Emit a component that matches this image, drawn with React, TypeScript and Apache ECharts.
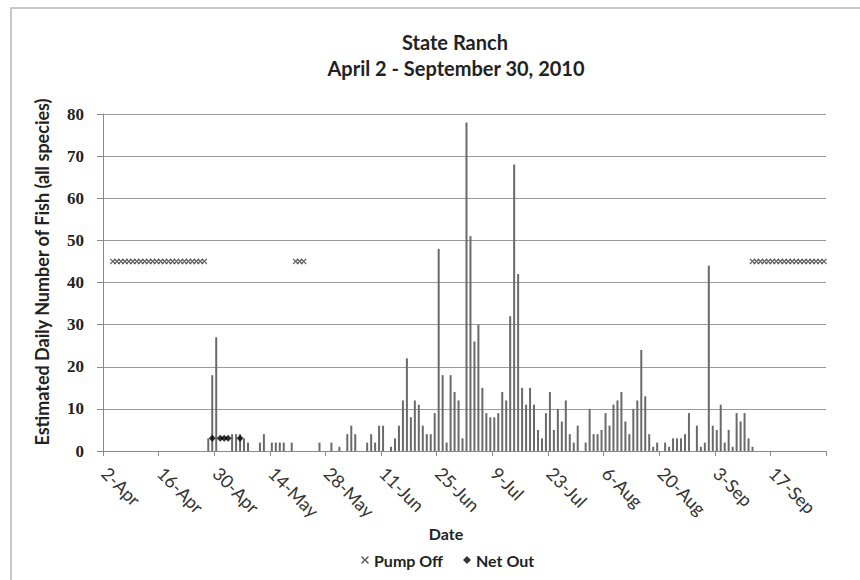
import React, { useEffect, useRef } from 'react';
import * as echarts from 'echarts';

// ---- categories: every day from 2-Apr to 30-Sep 2010 ----
const MONTHS = ['Jan', 'Feb', 'Mar', 'Apr', 'May', 'Jun', 'Jul', 'Aug', 'Sep', 'Oct', 'Nov', 'Dec'];
const DAY_COUNT = 182;
const categories: string[] = [];
for (let i = 0; i < DAY_COUNT; i++) {
  const d = new Date(2010, 3, 2 + i);
  categories.push(`${d.getDate()}-${MONTHS[d.getMonth()]}`);
}

// ---- estimated daily number of fish ----
const fishDates = [
  '28-Apr', '29-Apr', '30-Apr', '4-May', '5-May', '6-May', '7-May', '8-May', '11-May', '12-May',
  '14-May', '15-May', '16-May', '17-May', '19-May', '26-May', '29-May', '31-May', '2-Jun', '3-Jun',
  '4-Jun', '7-Jun', '8-Jun', '9-Jun', '10-Jun', '11-Jun', '13-Jun', '14-Jun', '15-Jun', '16-Jun',
  '17-Jun', '18-Jun', '19-Jun', '20-Jun', '21-Jun', '22-Jun', '23-Jun', '24-Jun', '25-Jun', '26-Jun',
  '27-Jun', '28-Jun', '29-Jun', '30-Jun', '1-Jul', '2-Jul', '3-Jul', '4-Jul', '5-Jul', '6-Jul',
  '7-Jul', '8-Jul', '9-Jul', '10-Jul', '11-Jul', '12-Jul', '13-Jul', '14-Jul', '15-Jul', '16-Jul',
  '17-Jul', '18-Jul', '19-Jul', '20-Jul', '21-Jul', '22-Jul', '23-Jul', '24-Jul', '25-Jul', '26-Jul',
  '27-Jul', '28-Jul', '29-Jul', '30-Jul', '1-Aug', '2-Aug', '3-Aug', '4-Aug', '5-Aug', '6-Aug',
  '7-Aug', '8-Aug', '9-Aug', '10-Aug', '11-Aug', '12-Aug', '13-Aug', '14-Aug', '15-Aug', '16-Aug',
  '17-Aug', '18-Aug', '19-Aug', '21-Aug', '22-Aug', '23-Aug', '24-Aug', '25-Aug', '26-Aug', '27-Aug',
  '29-Aug', '30-Aug', '31-Aug', '1-Sep', '2-Sep', '3-Sep', '4-Sep', '5-Sep', '6-Sep', '7-Sep',
  '8-Sep', '9-Sep', '10-Sep', '11-Sep', '12-Sep',
];
const fishCounts = [
  3, 18, 27, 4, 4, 4, 3, 2, 2, 4,
  2, 2, 2, 2, 2, 2, 2, 1, 4, 6,
  4, 2, 4, 2, 6, 6, 1, 3, 6, 12,
  22, 8, 12, 11, 6, 4, 4, 9, 48, 18,
  2, 18, 14, 12, 3, 78, 51, 26, 30, 15,
  9, 8, 8, 9, 14, 12, 32, 68, 42, 15,
  11, 15, 11, 5, 3, 9, 14, 5, 10, 7,
  12, 4, 2, 6, 2, 10, 4, 4, 5, 9,
  6, 11, 12, 14, 7, 4, 10, 12, 24, 13,
  4, 1, 2, 2, 1, 3, 3, 3, 4, 9,
  6, 1, 2, 44, 6, 5, 11, 2, 5, 1,
  9, 7, 9, 3, 1,
];

// ---- markers ----
const pumpOffDates = [
  '4-Apr', '5-Apr', '6-Apr', '7-Apr', '8-Apr', '9-Apr', '10-Apr', '11-Apr', '12-Apr', '13-Apr',
  '14-Apr', '15-Apr', '16-Apr', '17-Apr', '18-Apr', '19-Apr', '20-Apr', '21-Apr', '22-Apr', '23-Apr',
  '24-Apr', '25-Apr', '26-Apr', '27-Apr',
  '20-May', '21-May', '22-May',
  '12-Sep', '13-Sep', '14-Sep', '15-Sep', '16-Sep', '17-Sep', '18-Sep', '19-Sep', '20-Sep', '21-Sep',
  '22-Sep', '23-Sep', '24-Sep', '25-Sep', '26-Sep', '27-Sep', '28-Sep', '29-Sep', '30-Sep',
];
const PUMP_OFF_LEVEL = 45;
const netOutDates = ['29-Apr', '1-May', '2-May', '3-May', '6-May'];
const NET_OUT_LEVEL = 3;

const yTicks = { min: 0, max: 80, interval: 10 };

const CROSS = 'path://M0 1.4L1.4 0L5 3.6L8.6 0L10 1.4L6.4 5L10 8.6L8.6 10L5 6.4L1.4 10L0 8.6L3.6 5Z';
const SANS = 'Lato, "Noto Sans", sans-serif';

export default function App() {
  const ref = useRef<HTMLDivElement>(null);

  useEffect(() => {
    if (!ref.current) return;
    const chart = echarts.init(ref.current, undefined, { renderer: 'svg' });

    const barData = categories.map((c) => {
      const i = fishDates.indexOf(c);
      return i >= 0 ? fishCounts[i] : null;
    });
    const pumpData = pumpOffDates.map((d) => [d, PUMP_OFF_LEVEL]);
    const netData = netOutDates.map((d) => [d, NET_OUT_LEVEL]);

    chart.setOption({
      animation: false,
      backgroundColor: '#ffffff',
      grid: { left: 103, right: 34, top: 114, bottom: 129, containLabel: false },
      legend: {
        left: 356,
        top: 547,
        itemWidth: 8,
        itemHeight: 8,
        itemGap: 20,
        textStyle: { fontFamily: SANS, fontWeight: 'bold', fontSize: 16, color: '#222' },
        data: [
          { name: 'Pump Off', icon: CROSS, itemStyle: { color: '#3a3a3a' } },
          { name: 'Net Out', icon: 'diamond', itemStyle: { color: '#000' } },
        ],
      },
      xAxis: {
        type: 'category',
        data: categories,
        boundaryGap: true,
        axisLine: { show: true, lineStyle: { color: '#8a8a8a', width: 1 } },
        axisTick: { show: true, interval: 13, length: 5, lineStyle: { color: '#8a8a8a' } },
        axisLabel: {
          interval: 13,
          rotate: -45,
          margin: 19,
          fontFamily: SANS,
          fontSize: 18,
          color: '#333',
        },
        splitLine: { show: false },
      },
      yAxis: {
        type: 'value',
        min: yTicks.min,
        max: yTicks.max,
        interval: yTicks.interval,
        axisLine: { show: true, lineStyle: { color: '#8a8a8a', width: 1 } },
        axisTick: { show: true, length: 6, lineStyle: { color: '#8a8a8a' } },
        axisLabel: {
          margin: 19,
          fontFamily: '"Liberation Serif", serif',
          fontWeight: 'bold',
          fontSize: 17,
          color: '#222',
        },
        splitLine: { show: true, lineStyle: { color: '#9a9a9a', width: 1 } },
      },
      series: [
        {
          name: 'Fish',
          type: 'bar',
          data: barData,
          barWidth: 2,
          itemStyle: { color: '#6a6a6a' },
        },
        {
          name: 'Pump Off',
          type: 'scatter',
          data: pumpData,
          symbol: CROSS,
          symbolSize: 6,
          itemStyle: { color: '#3a3a3a' },
          z: 5,
        },
        {
          name: 'Net Out',
          type: 'scatter',
          data: netData,
          symbol: 'diamond',
          symbolSize: [7, 7],
          itemStyle: { color: '#000' },
          z: 6,
        },
      ],
      graphic: [
        {
          type: 'polyline',
          shape: { points: [[11, 580], [11, 8], [860, 8]] },
          style: { stroke: '#b5b5b5', lineWidth: 1.5, fill: 'none' },
          silent: true,
        },
        {
          type: 'text',
          x: 455,
          y: 42,
          style: {
            text: 'State Ranch',
            font: `bold 20px ${SANS}`,
            fill: '#222',
            textAlign: 'center',
            textVerticalAlign: 'middle',
            align: 'center',
            verticalAlign: 'middle',
          },
        },
        {
          type: 'text',
          x: 456,
          y: 68,
          style: {
            text: 'April 2 - September 30, 2010',
            font: `bold 20px ${SANS}`,
            fill: '#222',
            textAlign: 'center',
            textVerticalAlign: 'middle',
            align: 'center',
            verticalAlign: 'middle',
          },
        },
        {
          type: 'text',
          x: 446,
          y: 533,
          style: {
            text: 'Date',
            font: `bold 16px ${SANS}`,
            fill: '#222',
            textAlign: 'center',
            textVerticalAlign: 'middle',
            align: 'center',
            verticalAlign: 'middle',
          },
        },
        {
          type: 'text',
          x: 42,
          y: 272,
          rotation: Math.PI / 2,
          style: {
            text: 'Estimated Daily Number of Fish (all species)',
            font: `bold 18px ${SANS}`,
            fill: '#222',
            textAlign: 'center',
            textVerticalAlign: 'middle',
            align: 'center',
            verticalAlign: 'middle',
          },
        },
      ],
    });

    return () => chart.dispose();
  }, []);

  return (
    <div
      ref={ref}
      style={{ position: 'absolute', left: 0, top: 0, width: 860, height: 580, background: '#fff' }}
    />
  );
}
